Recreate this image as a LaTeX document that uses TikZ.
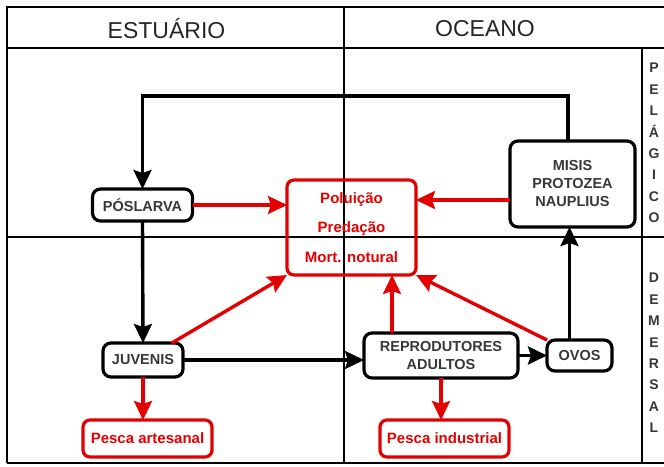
\documentclass[tikz,border=0pt]{standalone}
\usepackage{fontspec}
\setmainfont{Liberation Sans}
\usetikzlibrary{arrows.meta}
\definecolor{vermelho}{RGB}{228,0,0}
\definecolor{cinza}{RGB}{55,55,55}
\begin{document}
\begin{tikzpicture}[x=1pt, y=-1pt,
	every node/.style={inner sep=0pt, outer sep=0pt},
	fase/.style={draw=black, line width=3.2pt, rounded corners=8pt, align=center, text=cinza, font=\fontsize{14.5}{18}\selectfont\bfseries},
	perda/.style={draw=vermelho, line width=3.2pt, rounded corners=7pt, align=center, text=vermelho, font=\fontsize{15}{29.5}\selectfont\bfseries},
	seta/.style={line width=3.4pt, -{Stealth[length=19pt,width=18pt,inset=3pt]}},
	setav/.style={seta, draw=vermelho, vermelho},
	titulo/.style={text=black!85, font=\fontsize{23}{23}\selectfont}]
	\useasboundingbox (0,0) rectangle (664,466);

	% grade
	\draw[line width=2.8pt] (7,463) -- (7,7) -- (668,7);
	\draw[line width=2.8pt] (7,463) -- (668,463);
	\draw[line width=2.6pt] (7,48) -- (668,48);
	\draw[line width=2.6pt] (7,237) -- (668,237);
	\draw[line width=2.6pt] (344,7) -- (344,463);
	\draw[line width=2.6pt] (642,48) -- (642,463);

	\node[titulo] (estuario) at (166.5,29) {ESTUÁRIO};
	\node[titulo] (oceano) at (485,29) {OCEANO};
	\node[align=center, text=cinza, font=\fontsize{14}{21.4}\selectfont\bfseries] (pelagico) at (654,143) {P\\E\\L\\Á\\G\\I\\C\\O};
	\node[align=center, text=cinza, font=\fontsize{14}{21.4}\selectfont\bfseries] (demersal) at (654,353) {D\\E\\M\\E\\R\\S\\A\\L};

	% fases
	\node[fase, minimum width=100, minimum height=32] (poslarva) at (142.5,205) {PÓSLARVA};
	\node[perda, minimum width=129, minimum height=95] (mortalidade) at (351.5,227.5) {Poluição\\Predação\\Mort. notural};
	\node[fase, minimum width=125, minimum height=86] (misis) at (572.5,184) {MISIS\\PROTOZEA\\NAUPLIUS};
	\node[fase, minimum width=80, minimum height=34] (juvenis) at (143,360) {JUVENIS};
	\node[perda, minimum width=129, minimum height=37] (artesanal) at (147.5,438.5) {Pesca artesanal};
	\node[fase, minimum width=154, minimum height=45] (adultos) at (441,355.5) {REPRODUTORES\\ADULTOS};
	\node[fase, minimum width=65, minimum height=31] (ovos) at (579.5,355.5) {OVOS};
	\node[perda, minimum width=129, minimum height=37] (industrial) at (444.5,438.5) {Pesca industrial};

	% ciclo
	\coordinate (volta) at (568,96);
	\draw[seta] ([xshift=-4.5]misis.north) -- (volta) -| (poslarva.north);
	\draw[seta] (poslarva.south) -- (juvenis.north);
	\draw[seta] (juvenis.east) -- (adultos.west |- juvenis);
	\draw[seta] (adultos.east |- ovos) -- (ovos.west);
	\draw[seta] ([xshift=-10]ovos.north) -- ([xshift=-10]ovos.north |- misis.south);

	% perdas
	\draw[setav] (poslarva.east) -- (mortalidade.west |- poslarva);
	\draw[setav] (misis.west |- 0,200) -- (mortalidade.east |- 0,200);
	\draw[setav] (juvenis) -- (mortalidade.south west);
	\draw[setav] ([xshift=-49]adultos.north) -- ([xshift=-49]adultos.north |- mortalidade.south);
	\draw[setav] (ovos.north west) -- (mortalidade.south east);
	\draw[setav] (juvenis.south) -- (juvenis.south |- artesanal.north);
	\draw[setav] (adultos.south) -- (adultos.south |- industrial.north);
\end{tikzpicture}
\end{document}
